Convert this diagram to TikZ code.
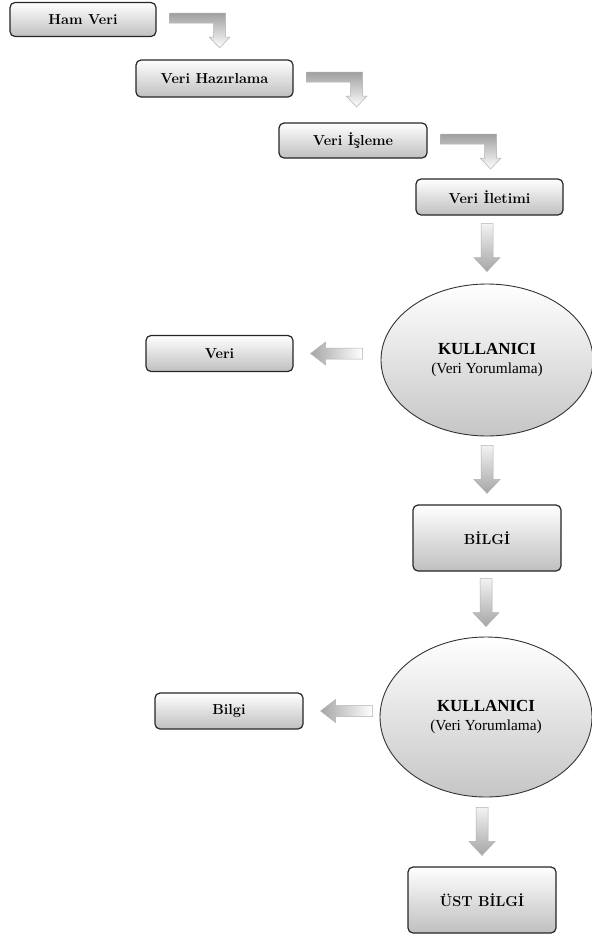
\documentclass[tikz,border=0pt]{standalone}
\usepackage{fontspec}
\newfontfamily\timesfont{Liberation Serif}
\usetikzlibrary{shapes.geometric,calc}

\tikzset{
  stagebox/.style={draw=black!85, line width=1.2pt, rounded corners=5bp,
    top color=white, bottom color=gray!50, inner sep=0pt,
    font=\fontsize{14.5}{16}\selectfont\bfseries},
  userellipse/.style={ellipse, draw=black!80, line width=0.9pt,
    top color=white, bottom color=gray!45, inner sep=0pt,
    minimum width=212bp, align=center,
    font=\timesfont\fontsize{15.4}{20}\selectfont},
  arrowfill/.style={draw=gray!60, line width=0.5pt},
  pics/downblock/.style={code={
    \path[arrowfill, top color=gray!10, bottom color=gray!70]
      (-6,0) -- (6,0) -- (6,34) -- (13,34) -- (0,48) -- (-13,34) -- (-6,34) -- cycle;}},
  pics/bentblock/.style={code={
    \path[arrowfill, top color=gray!75, bottom color=white]
      (13,-6.5) -- (69,-6.5) -- (69,17.5) -- (73.5,17.5) -- (63,28.5)
      -- (52.5,17.5) -- (57,17.5) -- (57,3.5) -- (13,3.5) -- cycle;}},
  pics/leftblock/.style={code={
    \path[arrowfill, left color=gray!70, right color=white]
      (17,0) -- (32,-11.5) -- (32,-5.5) -- (69,-5.5) -- (69,5.5)
      -- (32,5.5) -- (32,11.5) -- cycle;}}
}

\begin{document}
\begin{tikzpicture}[x=1bp,y=-1bp]
\useasboundingbox (0,0) rectangle (592,938);

% data processing chain
\node[stagebox, minimum width=146bp, minimum height=34bp] (ham)    at (83,19.5)   {Ham Veri};
\node[stagebox, minimum width=157bp, minimum height=37bp] (hazir)  at (214.5,78.5) {Veri Hazırlama};
\node[stagebox, minimum width=148bp, minimum height=35bp] (isleme) at (353,140.5)  {Veri İşleme};
\node[stagebox, minimum width=147bp, minimum height=36bp] (iletim) at (489.5,197)  {Veri İletimi};

% first interpretation step
\node[userellipse, minimum height=152bp] (kul1) at (487,360)
  {{\fontsize{17}{20}\selectfont\bfseries KULLANICI}\\(Veri Yorumlama)};
\node[stagebox, minimum width=147bp, minimum height=36bp] (veri)  at (219.5,353.5) {Veri};
\node[stagebox, minimum width=148bp, minimum height=66bp] (bilgiB) at (487,538) {BİLGİ};

% second interpretation step
\node[userellipse, minimum height=160bp] (kul2) at (486,717)
  {{\fontsize{17}{20}\selectfont\bfseries KULLANICI}\\(Veri Yorumlama)};
\node[stagebox, minimum width=148bp, minimum height=36bp] (bilgi) at (229,711) {Bilgi};
\node[stagebox, minimum width=148bp, minimum height=66bp] (ust)   at (482,900) {ÜST BİLGİ};

% stepped arrows between the chain boxes
\pic at (ham.east)    {bentblock};
\pic at (hazir.east)  {bentblock};
\pic at (isleme.east) {bentblock};

% downward block arrows
\pic at ($(iletim.south -| kul1.north)+(0,8)$)  {downblock};
\pic at ($(kul1.south -| bilgiB.north)+(0,9)$)  {downblock};
\pic at ($(bilgiB.south -| kul2.north)+(0,7)$)  {downblock};
\pic at ($(kul2.south -| ust.north)+(0,10)$)    {downblock};

% arrows pointing from the interpreter to its output
\pic at (veri.east)  {leftblock};
\pic at (bilgi.east) {leftblock};
\end{tikzpicture}
\end{document}
